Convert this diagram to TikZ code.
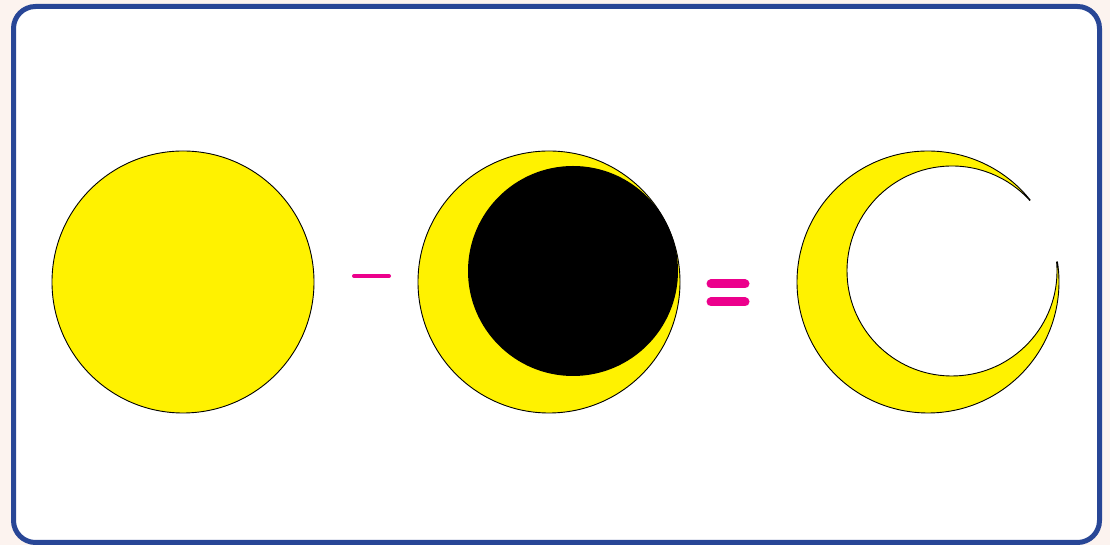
\documentclass[tikz,border=0pt]{standalone}
\usepackage{tikz}
\usetikzlibrary{calc}
\usepackage{xcolor}
\definecolor{sunyellow}{RGB}{255,242,0}
\definecolor{signmagenta}{RGB}{236,0,140}
\definecolor{frameblue}{RGB}{40,70,150}
\definecolor{pagepink}{RGB}{252,243,239}

\begin{document}
\begin{tikzpicture}[x=1bp,y=1bp]
    % Background and frame
    \fill[pagepink] (0,0) rectangle (1110,545);
    \useasboundingbox (0,0) rectangle (1110,545);
    \draw[frameblue,line width=5bp,fill=white,rounded corners=22bp] (13.5,2.5) rectangle (1099.5,538.5);

    % Full disc
    \draw[fill=sunyellow,line width=0.9bp] (183,263) circle[radius=131];

    % Minus
    \draw[signmagenta,line width=4bp,line cap=round] (354,269) -- (389,269);

    % Disc with shadow
    \draw[fill=sunyellow,line width=0.9bp] (549,263) circle[radius=131];
    \fill[black] (573,274) circle[radius=105];

    % Equals
    \draw[signmagenta,line width=9bp,line cap=round] (711,261) -- (745,261);
    \draw[signmagenta,line width=9bp,line cap=round] (711,243) -- (745,243);

    % Crescent
    \draw[fill=sunyellow,line width=0.9bp,line join=miter]
      ($(928,263)+(38.8:131)$) arc[start angle=38.8,end angle=368.8,radius=131]
      -- ($(952,274)+(4.9:105)$) arc[start angle=364.9,end angle=42.3,radius=105]
      -- cycle;
\end{tikzpicture}
\end{document}
